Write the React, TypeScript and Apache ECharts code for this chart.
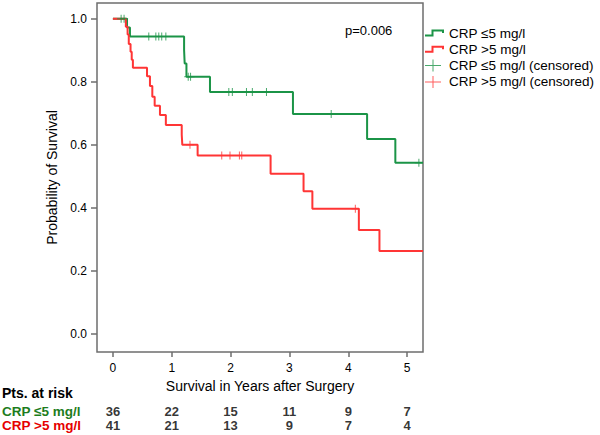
import React, { useEffect, useRef } from "react";
import * as echarts from "echarts";

const xTicks = [0, 1, 2, 3, 4, 5];
const yTicks = [0, 0.2, 0.4, 0.6, 0.8, 1.0];

const lowName = "CRP ≤5 mg/l";
const highName = "CRP >5 mg/l";
const lowCensName = "CRP ≤5 mg/l (censored)";
const highCensName = "CRP >5 mg/l (censored)";

// Kaplan-Meier steps, CRP <=5
const lowTimes = [0, 0.24, 0.29, 1.21, 1.22, 1.25, 1.65, 3.06, 4.32, 4.8, 5.27];
const lowSurv = [1.0, 0.972, 0.944, 0.901, 0.858, 0.816, 0.768, 0.698, 0.619, 0.543, 0.543];
const lowCensTimes = [0.14, 0.19, 0.61, 0.73, 0.78, 0.83, 0.9, 1.28, 1.32, 1.97, 2.03, 2.27, 2.37, 2.61, 3.71, 5.2];
const lowCensSurv = [1, 1, 0.944, 0.944, 0.944, 0.944, 0.944, 0.816, 0.816, 0.768, 0.768, 0.768, 0.768, 0.768, 0.698, 0.543];

// Kaplan-Meier steps, CRP >5
const highTimes = [0, 0.22, 0.25, 0.27, 0.3, 0.32, 0.34, 0.58, 0.63, 0.67, 0.71, 0.8, 0.9, 1.17, 1.18, 1.44, 2.68, 3.24, 3.39, 4.18, 4.53, 5.27];
const highSurv = [1.0, 0.975, 0.95, 0.92, 0.895, 0.87, 0.845, 0.818, 0.787, 0.753, 0.724, 0.695, 0.663, 0.632, 0.6, 0.566, 0.508, 0.453, 0.397, 0.33, 0.263, 0.263];
const highCensTimes = [1.31, 1.85, 1.99, 2.15, 2.19, 4.12];
const highCensSurv = [0.6, 0.566, 0.566, 0.566, 0.566, 0.397];

// Patients at risk
const riskTimes = [0, 1, 2, 3, 4, 5];
const riskGroups = ["low", "high"];
const riskLow = [36, 22, 15, 11, 9, 7];
const riskHigh = [41, 21, 13, 9, 7, 4];

const GREEN = "#1b9447";
const RED = "#ff3535";
const GREEN_TXT = "#1d7d1d";
const RED_TXT = "#e60000";
const FRAME = "#6e6e6e";
const FONT = "'Liberation Sans', Arial, sans-serif";

const stepIcon =
  "path://M0,0M19,12M0,7.5L6.5,7.5L6.5,2.5L19,2.5L19,6L17,6L17,4.5L8.5,4.5L8.5,9.5L0,9.5Z";
const plusIcon = "path://M0,0M19,12M0,5.5L16,5.5L16,6.5L0,6.5ZM7.5,0L8.5,0L8.5,12L7.5,12Z";
const plusMark = "path://M-4,-0.5L4,-0.5L4,0.5L-4,0.5ZM-0.5,-4L0.5,-4L0.5,4L-0.5,4Z";

export default function App() {
  const ref = useRef<HTMLDivElement>(null);

  useEffect(() => {
    document.body.style.margin = "0";
    if (!ref.current) return;
    const chart = echarts.init(ref.current, undefined, { renderer: "svg" });

    const zip = (xs: number[], ys: number[]) => xs.map((x, i) => [x, ys[i]]);

    const riskLabel = {
      show: true,
      position: "inside",
      formatter: (p: any) => String(p.value[2]),
      fontSize: 13,
      fontWeight: "bold",
      color: "#000",
      fontFamily: FONT,
    };

    const option: any = {
      animation: false,
      textStyle: { fontFamily: FONT },
      grid: [
        { left: 97, top: 3, width: 326, height: 349, show: true, borderColor: FRAME, borderWidth: 1.5, backgroundColor: "transparent" },
        { left: 97, top: 404, width: 326, height: 28 },
      ],
      xAxis: [
        {
          type: "value",
          gridIndex: 0,
          min: -0.27,
          max: 5.27,
          position: "bottom",
          axisLine: { show: false, onZero: false },
          splitLine: { show: false },
          axisTick: { show: true, customValues: xTicks, length: 5, lineStyle: { color: FRAME, width: 1.5 } },
          axisLabel: { customValues: xTicks, margin: 10, fontSize: 12, color: "#000", fontFamily: FONT, formatter: (v: number) => String(v) },
          name: "Survival in Years after Surgery",
          nameLocation: "middle",
          nameGap: 24,
          nameTextStyle: { fontSize: 14, color: "#000", fontFamily: FONT },
        },
        { type: "value", gridIndex: 1, min: -0.27, max: 5.27, show: false, axisLine: { onZero: false } },
      ],
      yAxis: [
        {
          type: "value",
          gridIndex: 0,
          min: -0.057,
          max: 1.05,
          position: "left",
          axisLine: { show: false, onZero: false },
          splitLine: { show: false },
          axisTick: { show: true, customValues: yTicks, length: 6, lineStyle: { color: FRAME, width: 1.5 } },
          axisLabel: { customValues: yTicks, margin: 10, fontSize: 12, color: "#000", fontFamily: FONT, formatter: (v: number) => v.toFixed(1) },
          name: "Probability of Survival",
          nameLocation: "middle",
          nameGap: 35,
          nameRotate: 90,
          nameTextStyle: { fontSize: 14, color: "#000", fontFamily: FONT },
        },
        { type: "category", gridIndex: 1, data: riskGroups, inverse: true, show: false, axisLine: { onZero: false } },
      ],
      legend: {
        left: 425,
        top: 26,
        orient: "vertical",
        padding: 0,
        itemWidth: 19,
        itemHeight: 12,
        itemGap: 2.3,
        selectedMode: false,
        itemStyle: { borderWidth: 0 },
        textStyle: { fontSize: 13.5, color: "#000", lineHeight: 14, fontFamily: FONT },
        data: [
          { name: lowName, icon: stepIcon },
          { name: highName, icon: stepIcon },
          { name: lowCensName, icon: plusIcon },
          { name: highCensName, icon: plusIcon },
        ],
      },
      graphic: [
        { type: "text", x: 345, y: 30, style: { text: "p=0.006", fontSize: 13, fill: "#000", fontFamily: FONT, verticalAlign: "middle" } },
        { type: "text", x: 2, y: 393, style: { text: "Pts. at risk", fontSize: 14, lineHeight: 13, fontWeight: "bold", fill: "#000", fontFamily: FONT, verticalAlign: "middle" } },
        { type: "text", x: 2, y: 411, style: { text: lowName, fontSize: 13.5, lineHeight: 13, fontWeight: "bold", fill: GREEN_TXT, fontFamily: FONT, verticalAlign: "middle" } },
        { type: "text", x: 2, y: 425.5, style: { text: highName, fontSize: 13.5, lineHeight: 13, fontWeight: "bold", fill: RED_TXT, fontFamily: FONT, verticalAlign: "middle" } },
      ],
      series: [
        {
          name: lowName,
          type: "line",
          step: "end",
          symbol: "none",
          data: zip(lowTimes, lowSurv),
          lineStyle: { color: GREEN, width: 2 },
          itemStyle: { color: GREEN },
          z: 3,
        },
        {
          name: highName,
          type: "line",
          step: "end",
          symbol: "none",
          data: zip(highTimes, highSurv),
          lineStyle: { color: RED, width: 2 },
          itemStyle: { color: RED },
          z: 4,
        },
        {
          name: lowCensName,
          type: "scatter",
          symbol: plusMark,
          symbolSize: 8,
          data: zip(lowCensTimes, lowCensSurv),
          itemStyle: { color: GREEN },
          z: 5,
        },
        {
          name: highCensName,
          type: "scatter",
          symbol: plusMark,
          symbolSize: 8,
          data: zip(highCensTimes, highCensSurv),
          itemStyle: { color: RED },
          z: 5,
        },
        {
          name: "riskLow",
          type: "scatter",
          xAxisIndex: 1,
          yAxisIndex: 1,
          symbolSize: 1,
          itemStyle: { color: "transparent" },
          data: riskTimes.map((t, i) => [t, riskGroups[0], riskLow[i]]),
          label: riskLabel,
        },
        {
          name: "riskHigh",
          type: "scatter",
          xAxisIndex: 1,
          yAxisIndex: 1,
          symbolSize: 1,
          itemStyle: { color: "transparent" },
          data: riskTimes.map((t, i) => [t, riskGroups[1], riskHigh[i]]),
          label: riskLabel,
        },
      ],
    };

    chart.setOption(option);
    return () => chart.dispose();
  }, []);

  return <div ref={ref} style={{ width: 600, height: 435 }} />;
}
